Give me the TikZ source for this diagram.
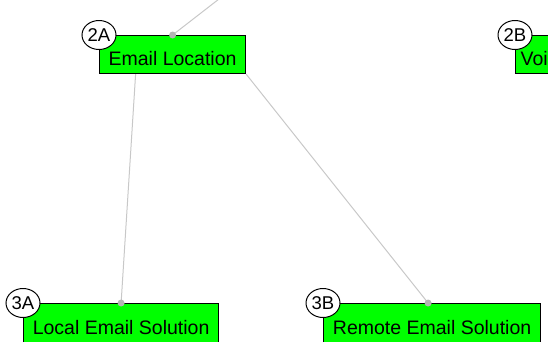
\documentclass[tikz,border=0pt]{standalone}
\usepackage{fontspec}
\setmainfont{Liberation Sans}
\usetikzlibrary{shapes.geometric,calc}
\definecolor{boxgreen}{HTML}{00FF00}
\definecolor{linkgray}{HTML}{C8C8C8}
\definecolor{dotgray}{HTML}{B4B4B4}

\begin{document}
\begin{tikzpicture}[x=1pt,y=-1pt,
  topic/.style={draw=black, line width=1.2pt, fill=boxgreen, inner sep=0pt,
    minimum height=38pt, text height=21.5pt, text depth=0pt,
    font=\fontsize{19.5}{22}\selectfont, anchor=north west},
  tag/.style={ellipse, draw=black, line width=1pt, fill=white, inner sep=0pt,
    minimum width=34pt, minimum height=29pt, font=\fontsize{18.5}{20}\selectfont},
  link/.style={draw=linkgray, line width=1pt},
  enddot/.style={fill=dotgray}]
  \useasboundingbox (0,0) rectangle (548,341);
  \clip (0,0) rectangle (548,341);
  % topics
  \node[topic, minimum width=146pt] (email) at (99,35) {Email Location};
  \node[topic, minimum width=0pt, inner xsep=5pt] (voice) at (515,35) {Voi};
  \node[topic, minimum width=195pt, minimum height=40pt] (local) at (23,303) {Local Email Solution};
  \node[topic, minimum width=217pt, minimum height=40pt] (remote) at (323,303) {Remote Email Solution};
  % links
  \coordinate (parent) at (219,-1);
  \draw[link] (parent) -- (email.north);
  \draw[link] ([xshift=-37pt]email.south) -- (local.north);
  \draw[link] (email.south east) -- ([xshift=-4pt]remote.north);
  \fill[enddot] (email.north) circle (3.5pt);
  \fill[enddot] (local.north) circle (3.5pt);
  \fill[enddot] ([xshift=-4pt]remote.north) circle (3.5pt);
  % tags
  \node[tag] (tagA) at (email.north west) {2A};
  \node[tag] (tagB) at (voice.north west) {2B};
  \node[tag] (tagC) at (local.north west) {3A};
  \node[tag] (tagD) at (remote.north west) {3B};
\end{tikzpicture}
\end{document}
